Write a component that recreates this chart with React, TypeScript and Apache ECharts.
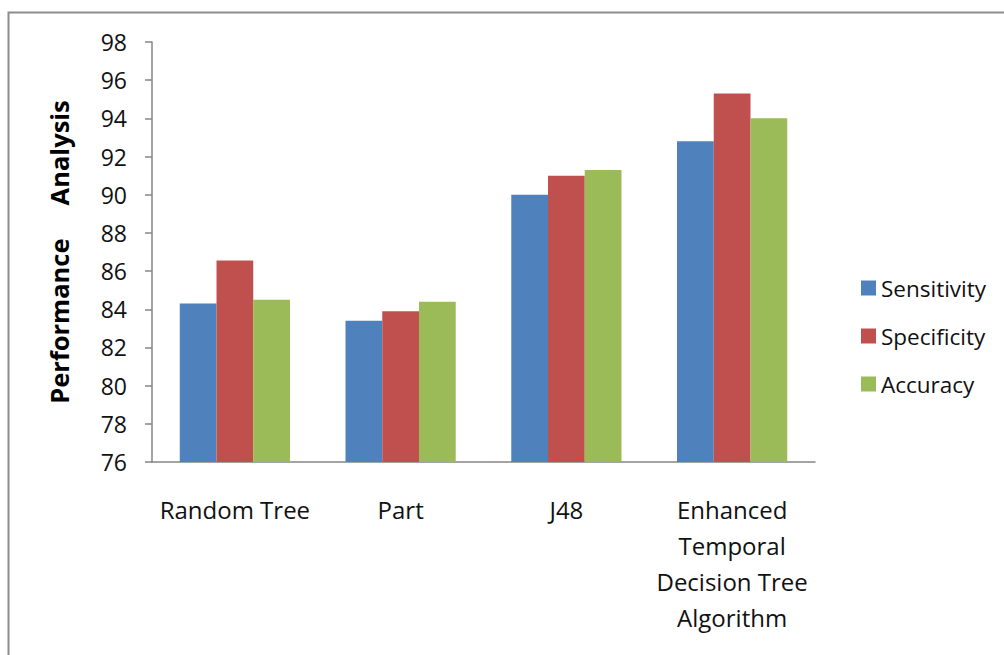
import React, { useEffect, useRef } from "react";
import * as echarts from "echarts";

const categories = [
  "Random Tree",
  "Part",
  "J48",
  "Enhanced\nTemporal\nDecision Tree\nAlgorithm",
];
const sensitivity = [84.3, 83.4, 90.0, 92.8];
const specificity = [86.55, 83.9, 91.0, 95.3];
const accuracy = [84.5, 84.4, 91.3, 94.0];
const yMin = 76;
const yMax = 98;
const yStep = 2;

const FONT = "'Open Sans', sans-serif";
const AXIS = "#868686";

export default function App() {
  const ref = useRef<HTMLDivElement>(null);
  useEffect(() => {
    if (!ref.current) return;
    const chart = echarts.init(ref.current, null, { renderer: "svg" });
    const mk = (name: string, data: number[], color: string) => ({
      name,
      type: "bar",
      data,
      barGap: "0%",
      barCategoryGap: "33.5%",
      itemStyle: { color },
    });
    chart.setOption({
      animation: false,
      backgroundColor: "#fff",
      textStyle: { fontFamily: FONT },
      graphic: [
        {
          type: "polyline",
          shape: { points: [[8.5, 700], [8.5, 12.5], [1100, 12.5]] },
          style: { fill: "none", stroke: "#8c8c8c", lineWidth: 2 },
          silent: true,
        },
      ],
      grid: { left: 152, right: 189, top: 42, bottom: 193, containLabel: false },
      legend: {
        orient: "vertical",
        left: 856,
        top: 268,
        icon: "rect",
        itemWidth: 15,
        itemHeight: 15,
        itemGap: 18,
        textStyle: { fontFamily: FONT, fontSize: 22.5, color: "#111", lineHeight: 30 },
        data: ["Sensitivity", "Specificity", "Accuracy"],
      },
      xAxis: {
        type: "category",
        data: categories,
        axisLine: { lineStyle: { color: AXIS, width: 1.5 } },
        axisTick: { length: 7, lineStyle: { color: AXIS, width: 1.5 } },
        axisLabel: {
          fontFamily: FONT,
          fontSize: 24,
          color: "#111",
          lineHeight: 36,
          margin: 29,
          interval: 0,
        },
      },
      yAxis: {
        type: "value",
        min: yMin,
        max: yMax,
        interval: yStep,
        name: "Performance     Analysis",
        nameLocation: "middle",
        nameRotate: 90,
        nameGap: 80,
        nameTextStyle: { fontFamily: FONT, fontSize: 25.5, fontWeight: "bold", color: "#000" },
        axisLine: { show: true, lineStyle: { color: AXIS, width: 1.5 } },
        axisTick: { show: true, length: 7, lineStyle: { color: AXIS, width: 1.5 } },
        splitLine: { show: false },
        axisLabel: { fontFamily: FONT, fontSize: 23, color: "#111", margin: 25 },
      },
      series: [
        mk("Sensitivity", sensitivity, "#4F81BD"),
        mk("Specificity", specificity, "#C0504D"),
        mk("Accuracy", accuracy, "#9BBB59"),
      ],
    });
    return () => chart.dispose();
  }, []);
  return (
    <div
      ref={ref}
      style={{ position: "fixed", left: 0, top: 0, width: 1004, height: 655, background: "#fff" }}
    />
  );
}
